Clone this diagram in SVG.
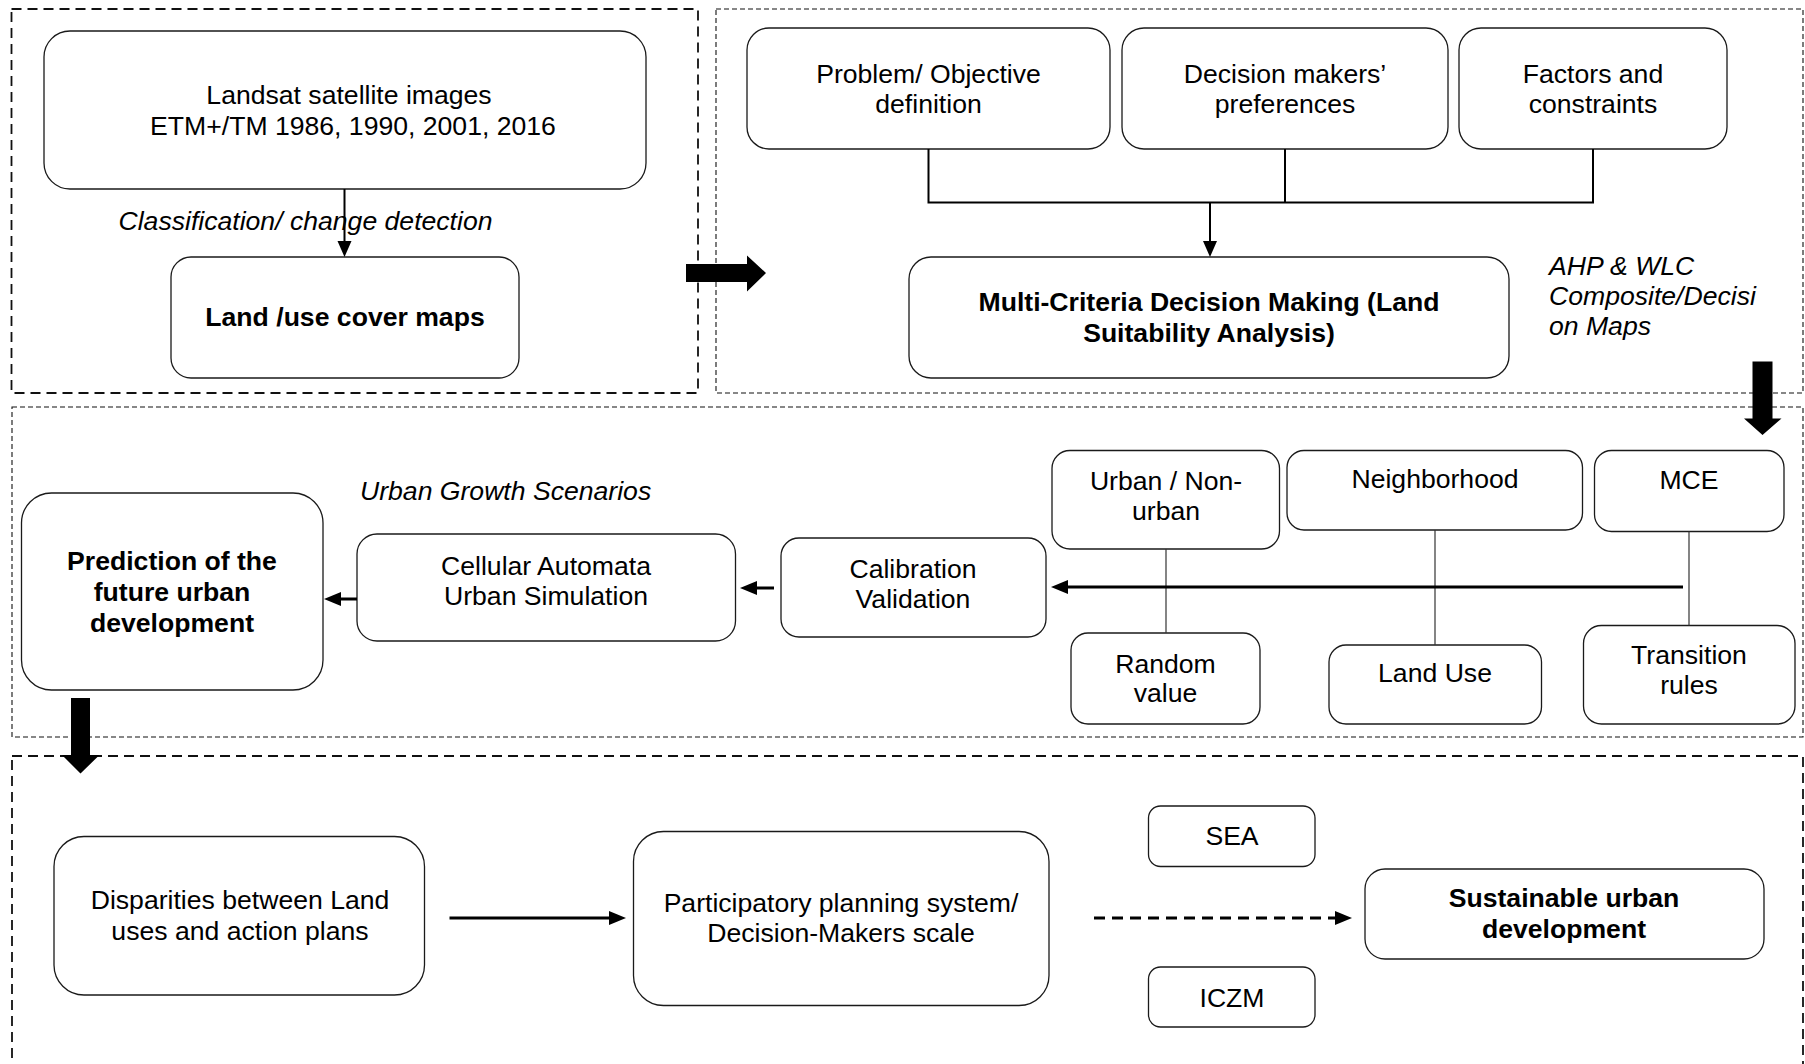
<svg xmlns="http://www.w3.org/2000/svg" width="1805" height="1064" viewBox="0 0 1805 1064">
  <style>
    .panel-a { fill: none; stroke: #111; stroke-width: 1.8; stroke-dasharray: 10 6; }
    .panel-b { fill: none; stroke: #111; stroke-width: 1.1; stroke-dasharray: 5 3; }
    .box { fill: #fff; stroke: #1a1a1a; stroke-width: 1.3; }
    text { font-family: "Liberation Sans", Arial, Helvetica, sans-serif; font-size: 26.6px; fill: #000; text-anchor: middle; }
    .b { font-weight: bold; }
    .it { font-style: italic; }
    .lft { text-anchor: start; }
    .link { fill: none; stroke: #000; stroke-width: 2; }
    .thin { fill: none; stroke: #333; stroke-width: 1.2; }
    .heavy { fill: none; stroke: #000; stroke-width: 3; }
    .dash { fill: none; stroke: #000; stroke-width: 3; stroke-dasharray: 11 7; }
    .block { fill: #000; }
  </style>
  <defs>
    <marker id="ah" markerUnits="userSpaceOnUse" markerWidth="18" markerHeight="16" refX="6" refY="7" orient="auto">
      <path d="M0,0 L17,7 L0,14 z" fill="#000"/>
    </marker>
    <marker id="ahs" markerUnits="userSpaceOnUse" markerWidth="18" markerHeight="16" refX="6" refY="7" orient="auto">
      <path d="M0,0 L16,7 L0,14 z" fill="#000"/>
    </marker>
  </defs>

  <!-- stage panels -->
  <g id="panels">
    <rect class="panel-a" x="11.5" y="9" width="686.5" height="384"/>
    <rect class="panel-b" x="716" y="9" width="1087" height="384"/>
    <rect class="panel-b" x="12" y="407" width="1791" height="330"/>
    <rect class="panel-a" x="12" y="756" width="1791" height="320"/>
  </g>

  <!-- stage 1: image classification -->
  <g id="landsat">
    <rect class="box" x="44" y="31" width="602" height="158" rx="26"/>
    <text x="349" y="104">Landsat satellite images</text>
    <text x="353" y="135">ETM+/TM 1986, 1990, 2001, 2016</text>
  </g>
  <g id="lulc-maps">
    <rect class="box" x="171" y="257" width="348" height="121" rx="20"/>
    <text class="b" x="345" y="326">Land /use cover maps</text>
  </g>

  <!-- stage 2: multi-criteria evaluation -->
  <g id="problem">
    <rect class="box" x="747" y="28" width="363" height="121" rx="22"/>
    <text x="928.5" y="83">Problem/ Objective</text>
    <text x="928.5" y="113">definition</text>
  </g>
  <g id="preferences">
    <rect class="box" x="1122" y="28" width="326" height="121" rx="22"/>
    <text x="1285" y="83">Decision makers’</text>
    <text x="1285" y="113">preferences</text>
  </g>
  <g id="factors">
    <rect class="box" x="1459" y="28" width="268" height="121" rx="22"/>
    <text x="1593" y="83">Factors and</text>
    <text x="1593" y="113">constraints</text>
  </g>
  <g id="mcdm">
    <rect class="box" x="909" y="257" width="600" height="121" rx="22"/>
    <text class="b" x="1209" y="311">Multi-Criteria Decision Making (Land</text>
    <text class="b" x="1209" y="342">Suitability Analysis)</text>
  </g>

  <!-- stage 3: cellular automata simulation -->
  <g id="prediction">
    <rect class="box" x="21.5" y="493" width="301.5" height="197" rx="30"/>
    <text class="b" x="172" y="570">Prediction of the</text>
    <text class="b" x="172" y="601">future urban</text>
    <text class="b" x="172" y="632">development</text>
  </g>
  <g id="ca-sim">
    <rect class="box" x="357" y="534" width="378.5" height="107" rx="20"/>
    <text x="546" y="575">Cellular Automata</text>
    <text x="546" y="605">Urban Simulation</text>
  </g>
  <g id="calibration">
    <rect class="box" x="781" y="538" width="265" height="99" rx="18"/>
    <text x="913" y="578">Calibration</text>
    <text x="913" y="608">Validation</text>
  </g>
  <g id="urban-nonurban">
    <rect class="box" x="1052" y="450.5" width="227.5" height="98.5" rx="18"/>
    <text x="1166" y="490">Urban / Non-</text>
    <text x="1166" y="520">urban</text>
  </g>
  <g id="neighborhood">
    <rect class="box" x="1287" y="450.5" width="295.5" height="79.5" rx="17"/>
    <text x="1435" y="488">Neighborhood</text>
  </g>
  <g id="mce">
    <rect class="box" x="1594.5" y="450.5" width="189.5" height="81" rx="17"/>
    <text x="1689" y="489">MCE</text>
  </g>
  <g id="random-value">
    <rect class="box" x="1071" y="633" width="189" height="91" rx="17"/>
    <text x="1165.5" y="673">Random</text>
    <text x="1165.5" y="702">value</text>
  </g>
  <g id="land-use">
    <rect class="box" x="1329" y="645" width="212.5" height="79" rx="17"/>
    <text x="1435" y="682">Land Use</text>
  </g>
  <g id="transition-rules">
    <rect class="box" x="1583.5" y="625.5" width="211.5" height="98.5" rx="18"/>
    <text x="1689" y="664">Transition</text>
    <text x="1689" y="694">rules</text>
  </g>

  <!-- stage 4: planning -->
  <g id="disparities">
    <rect class="box" x="54" y="836.5" width="370.5" height="158.5" rx="30"/>
    <text x="240" y="909">Disparities between Land</text>
    <text x="240" y="940">uses and action plans</text>
  </g>
  <g id="participatory">
    <rect class="box" x="633.5" y="831.5" width="415.5" height="174" rx="30"/>
    <text x="841" y="912">Participatory planning system/</text>
    <text x="841" y="942">Decision-Makers scale</text>
  </g>
  <g id="sea">
    <rect class="box" x="1148.5" y="806" width="166.5" height="60.5" rx="12"/>
    <text x="1232" y="845">SEA</text>
  </g>
  <g id="iczm">
    <rect class="box" x="1148.5" y="967" width="166.5" height="60" rx="12"/>
    <text x="1232" y="1007">ICZM</text>
  </g>
  <g id="sustainable">
    <rect class="box" x="1365" y="869" width="399" height="90" rx="20"/>
    <text class="b" x="1564" y="907">Sustainable urban</text>
    <text class="b" x="1564" y="938">development</text>
  </g>

  <!-- free labels -->
  <g id="labels">
    <text class="it" x="305.5" y="230">Classification/ change detection</text>
    <text class="it lft" x="1549" y="275">AHP &amp; WLC</text>
    <text class="it lft" x="1549" y="305">Composite/Decisi</text>
    <text class="it lft" x="1549" y="335">on Maps</text>
    <text class="it lft" x="360" y="500">Urban Growth Scenarios</text>
  </g>

  <!-- connectors -->
  <g id="connectors">
    <line class="link" x1="344.5" y1="189" x2="344.5" y2="247" stroke-width="1.6" marker-end="url(#ahs)"/>
    <polyline class="link" points="928.5,149 928.5,202.5 1593,202.5 1593,149"/>
    <line class="link" x1="1285" y1="149" x2="1285" y2="202.5"/>
    <line class="link" x1="1210" y1="202.5" x2="1210" y2="247" marker-end="url(#ahs)"/>

    <line class="thin" x1="1166" y1="549" x2="1166" y2="633"/>
    <line class="thin" x1="1435" y1="530" x2="1435" y2="645"/>
    <line class="thin" x1="1689" y1="531.5" x2="1689" y2="625.5"/>
    <line class="heavy" x1="1683" y1="587" x2="1062" y2="587" marker-end="url(#ah)"/>
    <line class="heavy" x1="774" y1="588" x2="751" y2="588" marker-end="url(#ah)"/>
    <line class="heavy" x1="357" y1="599" x2="335" y2="599" marker-end="url(#ah)"/>

    <line class="heavy" x1="449.5" y1="918" x2="615" y2="918" marker-end="url(#ah)"/>
    <line class="dash" x1="1094" y1="918" x2="1341" y2="918" marker-end="url(#ah)"/>

    <!-- stage-to-stage block arrows -->
    <polygon class="block" points="686,264 747,264 747,255.5 766,273 747,291.5 747,282 686,282"/>
    <polygon class="block" points="1752.5,361.5 1772.5,361.5 1772.5,418.5 1781.5,418.5 1762.5,435 1744,418.5 1752.5,418.5"/>
    <polygon class="block" points="71,698 90,698 90,755 99.5,755 80.5,773.5 62,755 71,755"/>
  </g>
</svg>
